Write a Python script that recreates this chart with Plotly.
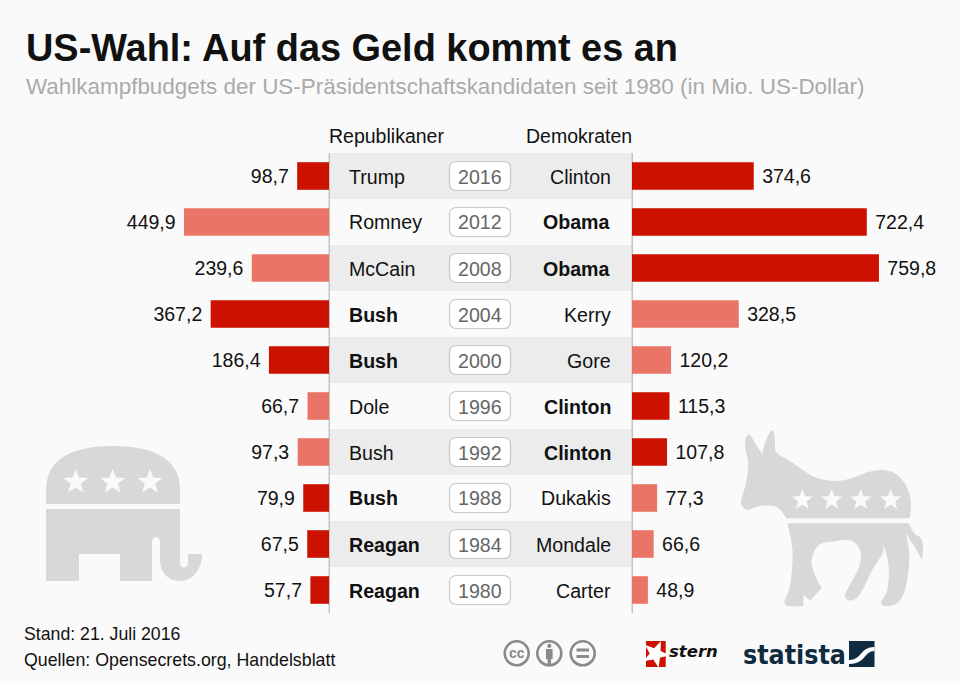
import math
import plotly.graph_objects as go

years = ["2016","2012","2008","2004","2000","1996","1992","1988","1984","1980"]
rep_names = ["Trump","Romney","McCain","Bush","Bush","Dole","Bush","Bush","Reagan","Reagan"]
dem_names = ["Clinton","Obama","Obama","Kerry","Gore","Clinton","Clinton","Dukakis","Mondale","Carter"]
rep_values = [98.7,449.9,239.6,367.2,186.4,66.7,97.3,79.9,67.5,57.7]
dem_values = [374.6,722.4,759.8,328.5,120.2,115.3,107.8,77.3,66.6,48.9]
rep_bold = [False,False,False,True,True,False,False,True,True,True]
dem_bold = [False,True,True,False,False,True,True,False,False,False]
rep_dark = [True,False,False,True,True,False,False,True,True,True]
dem_dark = [True,True,True,False,False,True,True,False,False,False]

WIN, LOSE = "#cc1100", "#ea7567"
BG, GREY, FONT = "#fafafa", "#d8d8d8", "Liberation Sans"
W, H = 960, 684
NB = "\u00a0"

def fmt(v):
    return f"{v:.1f}".replace(".", ",")
def px(x): return x / W
def py(y): return 1 - y / H

fig = go.Figure()
fig.add_bar(y=years, x=rep_values, orientation="h", xaxis="x", yaxis="y",
            marker=dict(color=[WIN if w else LOSE for w in rep_dark], line_width=0),
            text=[fmt(v) for v in rep_values], texttemplate="%{text}" + NB,
            textposition="outside", cliponaxis=False, width=0.6,
            textfont=dict(family=FONT, size=19.5, color="#111"), showlegend=False, hoverinfo="skip")
fig.add_bar(y=years, x=dem_values, orientation="h", xaxis="x2", yaxis="y",
            marker=dict(color=[WIN if w else LOSE for w in dem_dark], line_width=0),
            text=[fmt(v) for v in dem_values], texttemplate=NB + "%{text}",
            textposition="outside", cliponaxis=False, width=0.6,
            textfont=dict(family=FONT, size=19.5, color="#111"), showlegend=False, hoverinfo="skip")

shapes, ann = [], []
def pshape(d, fill, line=None, lw=0, layer="below"):
    shapes.append(dict(type="path", path=d, xref="paper", yref="paper", fillcolor=fill,
                       line=dict(color=line or fill, width=lw), layer=layer))
def pts(points, close=True):
    s = "M" + " L".join(f"{px(x):.5f},{py(y):.5f}" for x, y in points)
    return s + (" Z" if close else "")
def smooth(points):
    n = len(points)
    mid = lambda a, b: ((a[0]+b[0])/2, (a[1]+b[1])/2)
    m0 = mid(points[-1], points[0])
    s = f"M{px(m0[0]):.5f},{py(m0[1]):.5f} "
    for i in range(n):
        c, e = points[i], mid(points[i], points[(i+1) % n])
        s += f"Q{px(c[0]):.5f},{py(c[1]):.5f} {px(e[0]):.5f},{py(e[1]):.5f} "
    return s + "Z"
def star(cx, cy, r, rot=0.0):
    out = []
    for i in range(10):
        a = -math.pi/2 + rot + i*math.pi/5
        rr = r if i % 2 == 0 else r*0.42
        out.append((cx + rr*math.cos(a), cy + rr*math.sin(a)))
    return pts(out)
def curve(cmds):
    s = ""
    for c in cmds:
        s += c[0]
        v = c[1:]
        s += " ".join(f"{px(v[i]):.5f},{py(v[i+1]):.5f}" for i in range(0, len(v), 2)) + " "
    return s
def rect(x0, y0, x1, y1, fill, line=None, lw=0, layer="below"):
    shapes.append(dict(type="rect", xref="paper", yref="paper", x0=px(x0), x1=px(x1), y0=py(y0), y1=py(y1),
                       fillcolor=fill, line=dict(color=line or fill, width=lw), layer=layer))
def text(x, y, t, size=19, color="#111", anchor="left", family=FONT):
    ann.append(dict(xref="paper", yref="paper", x=px(x), y=py(y), text=t, showarrow=False, xanchor=anchor,
                    yanchor="middle", font=dict(family=family, size=size, color=color), borderpad=0, borderwidth=0))

# table
for i, yr in enumerate(years):
    top = 153 + 46*i
    if i % 2 == 0:
        rect(329, top, 632, top+46, "#ececec")
    cy = top + 23
    text(349, cy+0.5, f"<b>{rep_names[i]}</b>" if rep_bold[i] else rep_names[i], size=19.6)
    text(610.5, cy+0.5, f"<b>{dem_names[i]}</b>" if dem_bold[i] else dem_names[i], size=19.6, anchor="right")
    x0, x1, y0, y1, r = 449.5, 510.5, cy-14.5, cy+14.5, 7
    pshape(curve([("M",x0+r,y0),("L",x1-r,y0),("Q",x1,y0,x1,y0+r),("L",x1,y1-r),("Q",x1,y1,x1-r,y1),
                  ("L",x0+r,y1),("Q",x0,y1,x0,y1-r),("L",x0,y0+r),("Q",x0,y0,x0+r,y0),("Z",)]),
           "#ffffff", "#c8c8c8", 1.2)
    text(480, cy+0.5, yr, size=19.6, color="#666", anchor="center")
rect(328.5, 153, 330, 613, "#c4c4c4")
rect(631.5, 153, 633, 613, "#c4c4c4")

text(329, 136, "Republikaner", size=19.5)
text(632, 136, "Demokraten", size=19.5, anchor="right")
text(26, 48, "<b>US-Wahl: Auf das Geld kommt es an</b>", size=37.9, color="#111")
text(26, 86, "Wahlkampfbudgets der US-Präsidentschaftskandidaten seit 1980 (in Mio. US-Dollar)", size=22.45, color="#aaaaaa")
text(24, 634, "Stand: 21. Juli 2016", size=17.7)
text(24, 660, "Quellen: Opensecrets.org, Handelsblatt", size=17.8)

# elephant
pshape(curve([("M",46,504),("L",46,490),("C",46,460,70,446,113,446),("C",156,446,180,460,180,490),("L",180,504),("Z",)]), GREY)
pshape(curve([("M",46,509),("L",180,509),("L",180,563),("C",180,569,188,569,188,563),("L",188,554),("L",202,554),
              ("C",202,570,192,581,180,581),("C",168,581,160,572,160,560),("L",160,543),("C",160,535,152,535,152,543),
              ("L",152,581),("L",120,581),("L",120,554),("L",79,554),("L",79,581),("L",46,581),("Z",)]), GREY)
for cx in (75.7, 112.7, 150):
    pshape(star(cx, 482, 13), BG)

# donkey
def dz(p): return [(630 + a/3, 410 + b/3) for a, b in p]
d_top = [(332,270),(345,235),(358,165),(345,120),(345,85),(358,68),(375,100),(397,133),(397,133),(405,95),(420,65),(430,58),
         (436,90),(434,130),(470,145),(510,175),(560,207),(620,215),(670,205),(710,185),(760,178),(800,190),(830,225),
         (845,270),(840,325),(840,325),(470,325),(470,325),(445,290),(410,285),(380,290),(350,303),(335,290)]
d_low = [(473,340),(473,340),(835,340),(835,340),(855,375),(870,378),(881,400),(876,450),(876,450),(860,420),(840,390),
         (828,370),(828,370),(838,420),(838,470),(825,550),(800,585),(760,590),(750,575),(770,555),(778,500),(775,450),
         (758,395),(758,395),(763,425),(725,480),(690,560),(660,575),(640,560),(660,525),(690,470),(695,420),(665,385),
         (610,395),(565,398),(540,450),(555,500),(575,535),(575,535),(540,572),(540,572),(520,555),(520,555),(520,588),
         (520,588),(470,590),(460,575),(480,540),(485,490),(490,420)]
pshape(smooth(dz(d_top)), GREY)
pshape(smooth(dz(d_low)), GREY)
for zx in (517, 605, 692, 782):
    (cx, cy), = dz([(zx, 270)])
    pshape(star(cx, cy, 11), BG)

# licence icons
for cx in (516.7, 549.3, 582.7):
    shapes.append(dict(type="circle", xref="paper", yref="paper", x0=px(cx-12), x1=px(cx+12), y0=py(653.3+12), y1=py(653.3-12),
                       fillcolor="rgba(0,0,0,0)", line=dict(color="#8a8a8a", width=2.6), layer="below"))
text(516.7, 652.5, "<b>cc</b>", size=14, color="#8a8a8a", anchor="center")
rect(546, 649, 552.6, 659, "#8a8a8a"); rect(547.5, 659, 551.1, 665, "#8a8a8a")
shapes.append(dict(type="circle", xref="paper", yref="paper", x0=px(547.2), x1=px(551.4), y0=py(648), y1=py(643.8),
                   fillcolor="#8a8a8a", line_width=0, layer="below"))
rect(576.5, 648.5, 589, 651.5, "#8a8a8a"); rect(576.5, 655, 589, 658, "#8a8a8a")

# logos
rect(646, 641, 665.7, 667, "#cc1100")
pshape(star(655.5, 654, 14, 0.4), "#ffffff")
text(669, 651, "<b><i>stern</i></b>", size=16.5, color="#111", family="DejaVu Sans")
text(743, 654, "<b>statista</b>", size=26.5, color="#0f2b40", family="DejaVu Sans Condensed, Liberation Sans")
rect(849, 641, 874.5, 667, "#0f2b40")
pshape(curve([("M",849,660),("C",862,660,860,647,874.5,647),("L",874.5,651),("C",864,651,866,664,849,664),("Z",)]), "#ffffff")

fig.update_layout(
    width=W, height=H, margin=dict(l=0, r=0, t=0, b=0), paper_bgcolor=BG, plot_bgcolor="rgba(0,0,0,0)",
    barmode="overlay", shapes=shapes, annotations=ann,
    xaxis=dict(domain=[0, 329/W], range=[329/0.3223, 0], visible=False),
    xaxis2=dict(domain=[632/W, 1], range=[0, 328/0.325], visible=False),
    yaxis=dict(domain=[1-613/H, 1-153/H], type="category", categoryorder="array", categoryarray=years,
               autorange=False, range=[9.5, -0.5], visible=False),
)
fig.write_html("out.html", config=dict(displayModeBar=False),
               post_script="document.body.style.margin='0';document.body.style.background='#fafafa';document.body.style.overflow='hidden';")
